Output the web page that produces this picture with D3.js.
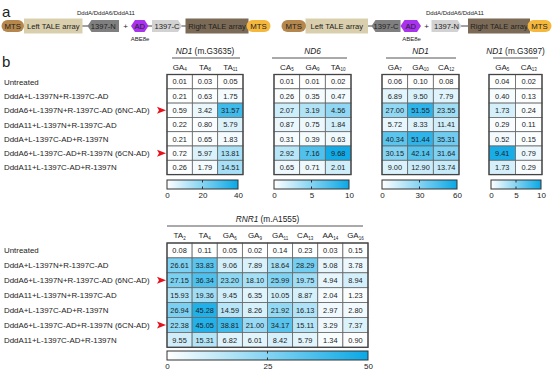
<!DOCTYPE html>
<html>
<head>
<meta charset="utf-8">
<script src="https://cdn.jsdelivr.net/npm/d3@7"></script>
<style>
  body { margin: 0; background: #fff; }
  svg text { font-family: "Liberation Sans", Arial, sans-serif; fill: #222; }
</style>
</head>
<body>
<svg id="fig"></svg>
<script>
var svgWidth = 554;
var svgHeight = 374;

// ---- data ----
var rowLabels = [
    "Untreated",
    "DddA+L-1397N+R-1397C-AD",
    "DddA6+L-1397N+R-1397C-AD (6NC-AD)",
    "DddA11+L-1397N+R-1397C-AD",
    "DddA+L-1397C-AD+R-1397N",
    "DddA6+L-1397C-AD+R-1397N (6CN-AD)",
    "DddA11+L-1397C-AD+R-1397N"
];
var arrowRows = [2, 5];

var nd1aGene = "ND1", nd1aSite = " (m.G3635)";
var nd1aCols = [["GA", "4"], ["TA", "8"], ["TA", "11"]];
var nd1aValues = [
    [0.01, 0.03, 0.05],
    [0.21, 0.63, 1.75],
    [0.59, 3.42, 31.57],
    [0.22, 0.80, 5.79],
    [0.21, 0.65, 1.83],
    [0.72, 5.97, 13.81],
    [0.26, 1.79, 14.51]
];
var nd1aTicks = [0, 20, 40];

var nd6Gene = "ND6", nd6Site = "";
var nd6Cols = [["CA", "5"], ["GA", "9"], ["TA", "10"]];
var nd6Values = [
    [0.01, 0.01, 0.02],
    [0.26, 0.35, 0.47],
    [2.07, 3.19, 4.56],
    [0.87, 0.75, 1.84],
    [0.31, 0.39, 0.63],
    [2.92, 7.16, 9.68],
    [0.65, 0.71, 2.01]
];
var nd6Ticks = [0, 5, 10];

var nd1bGene = "ND1", nd1bSite = "";
var nd1bCols = [["GA", "7"], ["GA", "10"], ["CA", "12"]];
var nd1bValues = [
    [0.06, 0.10, 0.08],
    [6.89, 9.50, 7.79],
    [27.00, 51.55, 23.55],
    [5.72, 8.33, 11.41],
    [40.34, 51.44, 35.31],
    [30.15, 42.14, 31.64],
    [9.00, 12.90, 13.74]
];
var nd1bTicks = [0, 30, 60];

var nd1cGene = "ND1", nd1cSite = " (m.G3697)";
var nd1cCols = [["GA", "5"], ["CA", "13"]];
var nd1cValues = [
    [0.04, 0.02],
    [0.40, 0.13],
    [1.73, 0.24],
    [0.29, 0.11],
    [0.52, 0.15],
    [9.41, 0.79],
    [1.73, 0.29]
];
var nd1cTicks = [0, 5, 10];

var rnr1Gene = "RNR1", rnr1Site = " (m.A1555)";
var rnr1Cols = [["TA", "2"], ["TA", "4"], ["GA", "6"], ["GA", "9"], ["GA", "11"], ["CA", "13"], ["AA", "14"], ["GA", "16"]];
var rnr1Values = [
    [0.08, 0.11, 0.05, 0.02, 0.14, 0.23, 0.03, 0.15],
    [26.61, 33.83, 9.06, 7.89, 18.64, 28.29, 5.08, 3.78],
    [27.15, 36.34, 23.20, 18.10, 25.99, 19.75, 4.94, 8.94],
    [15.93, 19.36, 9.45, 6.35, 10.05, 8.87, 2.04, 1.23],
    [26.94, 45.28, 14.59, 8.26, 21.92, 16.13, 2.97, 2.80],
    [22.38, 45.05, 38.81, 21.00, 34.17, 15.11, 3.29, 7.37],
    [9.55, 15.31, 6.82, 6.01, 8.42, 5.79, 1.34, 0.90]
];
var rnr1Ticks = [0, 25, 50];

var lowColor = "#ffffff";
var highColor = "#0aa8e6";

var svg = d3.select("#fig")
    .attr("width", svgWidth)
    .attr("height", svgHeight);

// ---- panel a ----
svg.append("text").attr("x", 2).attr("y", 17).attr("font-size", 15).text("a");
svg.append("text").attr("x", 2).attr("y", 67).attr("font-size", 15).text("b");

function hexPath(x0, x1, cy, h, leftPoint, rightPoint) {
    var k = 4, t = cy - h / 2, b = cy + h / 2;
    var pts = [];
    if (leftPoint) pts.push([x0, cy], [x0 + k, t]); else pts.push([x0, t]);
    if (rightPoint) pts.push([x1 - k, t], [x1, cy], [x1 - k, b]); else pts.push([x1, t], [x1, b]);
    if (leftPoint) pts.push([x0 + k, b]); else pts.push([x0, b]);
    return "M" + pts.map(function (p) { return p.join(","); }).join("L") + "Z";
}

function link(x0, x1, cy) {
    svg.append("line").attr("x1", x0).attr("x2", x1).attr("y1", cy).attr("y2", cy)
        .attr("stroke", "#444").attr("stroke-width", 1);
}

function pill(x0, x1, cy, fill) {
    svg.append("rect").attr("x", x0).attr("y", cy - 6).attr("width", x1 - x0).attr("height", 12)
        .attr("rx", 6).attr("fill", fill);
    svg.append("text").attr("x", (x0 + x1) / 2).attr("y", cy + 2.8).attr("text-anchor", "middle")
        .attr("font-size", 7.8).text("MTS");
}

function box(x0, x1, cy, fill, label) {
    svg.append("rect").attr("x", x0).attr("y", cy - 7.5).attr("width", x1 - x0).attr("height", 15)
        .attr("fill", fill);
    svg.append("text").attr("x", (x0 + x1) / 2).attr("y", cy + 2.8).attr("text-anchor", "middle")
        .attr("font-size", 7.6).text(label);
}

function hexa(x0, x1, cy, fill, label, lp, rp) {
    svg.append("path").attr("d", hexPath(x0, x1, cy, 12, lp, rp)).attr("fill", fill);
    svg.append("text").attr("x", (x0 + x1) / 2).attr("y", cy + 2.8).attr("text-anchor", "middle")
        .attr("font-size", 7.6).text(label);
}

function smallText(x, y, s) {
    svg.append("text").attr("x", x).attr("y", y).attr("text-anchor", "middle")
        .attr("font-size", 6).text(s);
}

var cy = 26;
var darkGray = "#7f7f7f", lightGray = "#d2d2d2", purple = "#a832ee";

// construct 1
link(82, 88, cy);
link(148, 186, cy);
box(24, 82.5, cy, "#d9cfad", "Left TALE array");
hexa(87.5, 119, cy, darkGray, "1397-N", true, false);
svg.append("text").attr("x", 125.5).attr("y", cy + 3).attr("text-anchor", "middle").attr("font-size", 8).text("+");
hexa(131, 148.5, cy, purple, "AD", true, true);
hexa(152, 182, cy, lightGray, "1397-C", false, true);
box(185.5, 248.5, cy, "#7b6a56", "Right TALE array");
pill(1.5, 24, cy, "#b5874c");
pill(246.5, 270.5, cy, "#f6b83c");
smallText(106, 15, "DddA/DddA6/DddA11");
smallText(140, 41, "ABE8e");

// construct 2
link(367, 372, cy);
link(461, 469, cy);
box(305.5, 368, cy, "#d9cfad", "Left TALE array");
hexa(371.5, 400.5, cy, darkGray, "1397-C", true, false);
hexa(400.5, 421, cy, purple, "AD", true, true);
svg.append("text").attr("x", 426.5).attr("y", cy + 3).attr("text-anchor", "middle").attr("font-size", 8).text("+");
hexa(431.5, 461.5, cy, lightGray, "1397-N", false, true);
box(468, 530, cy, "#7b6a56", "Right TALE array");
pill(281.5, 306, cy, "#b5874c");
pill(527.5, 551.5, cy, "#f6b83c");
smallText(455, 15, "DddA/DddA6/DddA11");
smallText(411.5, 41, "ABE8e");

// ---- panel b ----
function drawRowLabels(top, pitch) {
    var y = d3.scaleBand().domain(d3.range(rowLabels.length)).range([top, top + pitch * rowLabels.length]);
    var g = svg.append("g");
    g.selectAll("text").data(rowLabels).join("text")
        .attr("x", 4)
        .attr("y", function (d, i) { return y(i) + y.bandwidth() / 2 + 3; })
        .attr("font-size", 7.9)
        .text(function (d) { return d; });
    g.selectAll("path").data(arrowRows).join("path")
        .attr("d", function (r) {
            var c = y(r) + y.bandwidth() / 2;
            return "M157," + (c - 3.5) + "L166," + c + "L157," + (c + 3.5) + "L159," + c + "Z";
        })
        .attr("fill", "#e8101a");
}

function drawTable(opt) {
    var nRows = opt.values.length, nCols = opt.cols.length;
    var x = d3.scaleBand().domain(d3.range(nCols)).range([opt.x0, opt.x1]);
    var y = d3.scaleBand().domain(d3.range(nRows)).range([opt.top, opt.top + opt.pitch * nRows]);
    var vmax = opt.ticks[opt.ticks.length - 1];
    var color = d3.scaleLinear().domain([0, vmax]).range([lowColor, highColor]).clamp(true);
    var g = svg.append("g");

    // title + underline
    var title = g.append("text").attr("x", (opt.x0 + opt.x1) / 2).attr("y", opt.titleY)
        .attr("text-anchor", "middle").attr("font-size", 8.3);
    title.append("tspan").attr("font-style", "italic").text(opt.gene);
    if (opt.site) title.append("tspan").text(opt.site);
    g.append("line").attr("x1", opt.ul0).attr("x2", opt.ul1)
        .attr("y1", opt.titleY + 4).attr("y2", opt.titleY + 4)
        .attr("stroke", "#555").attr("stroke-width", 1);

    // column headers
    var hd = g.selectAll("text.hd").data(opt.cols).join("text").attr("class", "hd")
        .attr("x", function (d, i) { return x(i) + x.bandwidth() / 2; })
        .attr("y", opt.top - 5)
        .attr("text-anchor", "middle")
        .attr("font-size", 8);
    hd.append("tspan").text(function (d) { return d[0]; });
    hd.append("tspan").attr("font-size", 4.5).attr("dy", 1.5).text(function (d) { return d[1]; });

    // cells
    var cells = [];
    opt.values.forEach(function (row, r) {
        row.forEach(function (v, c) { cells.push({ r: r, c: c, v: v }); });
    });
    g.selectAll("rect.cell").data(cells).join("rect").attr("class", "cell")
        .attr("x", function (d) { return x(d.c); })
        .attr("y", function (d) { return y(d.r); })
        .attr("width", x.bandwidth())
        .attr("height", y.bandwidth())
        .attr("fill", function (d) { return color(d.v); })
        .attr("stroke", "#666")
        .attr("stroke-width", 0.8);
    g.selectAll("text.val").data(cells).join("text").attr("class", "val")
        .attr("x", function (d) { return x(d.c) + x.bandwidth() / 2; })
        .attr("y", function (d) { return y(d.r) + y.bandwidth() / 2 + 2.7; })
        .attr("text-anchor", "middle")
        .attr("font-size", 7.4)
        .text(function (d) { return d.v.toFixed(2); });
    g.append("rect")
        .attr("x", opt.x0).attr("y", opt.top)
        .attr("width", opt.x1 - opt.x0).attr("height", opt.pitch * nRows)
        .attr("fill", "none").attr("stroke", "#444").attr("stroke-width", 1.3);

    // colour bar
    var gid = "grad" + opt.id;
    var grad = svg.append("defs").append("linearGradient").attr("id", gid);
    grad.append("stop").attr("offset", "0%").attr("stop-color", lowColor);
    grad.append("stop").attr("offset", "100%").attr("stop-color", highColor);
    var bx = d3.scaleLinear().domain([0, vmax]).range([opt.cb0, opt.cb1]);
    var bt = opt.barY, bh = 9;
    g.append("rect").attr("x", opt.cb0).attr("y", bt).attr("width", opt.cb1 - opt.cb0).attr("height", bh)
        .attr("fill", "url(#" + gid + ")").attr("stroke", "#333").attr("stroke-width", 1);
    var mid = opt.ticks.slice(1, -1);
    g.selectAll("line.tk1").data(mid).join("line").attr("class", "tk1")
        .attr("x1", bx).attr("x2", bx).attr("y1", bt).attr("y2", bt + 2.5)
        .attr("stroke", "#333").attr("stroke-width", 1);
    g.selectAll("line.tk2").data(mid).join("line").attr("class", "tk2")
        .attr("x1", bx).attr("x2", bx).attr("y1", bt + bh - 2.5).attr("y2", bt + bh)
        .attr("stroke", "#333").attr("stroke-width", 1);
    var axis = d3.axisBottom(bx).tickValues(opt.ticks).tickSize(0).tickPadding(0);
    var ag = g.append("g").attr("transform", "translate(0," + (bt + bh + 3) + ")").call(axis);
    ag.select(".domain").remove();
    ag.selectAll("text").attr("font-size", 8).attr("font-family", "Liberation Sans, Arial, sans-serif")
        .attr("fill", "#222").attr("dy", "0.75em");
}

drawRowLabels(74.5, 14.3);
drawRowLabels(243, 14.9);

drawTable({ id: 1, gene: nd1aGene, site: nd1aSite, cols: nd1aCols, values: nd1aValues, ticks: nd1aTicks,
    x0: 167, x1: 243, top: 74.5, pitch: 14.3, titleY: 54, ul0: 172, ul1: 240, barY: 180, cb0: 167, cb1: 238 });
drawTable({ id: 2, gene: nd6Gene, site: nd6Site, cols: nd6Cols, values: nd6Values, ticks: nd6Ticks,
    x0: 274, x1: 351, top: 74.5, pitch: 14.3, titleY: 54, ul0: 272, ul1: 347, barY: 180, cb0: 274, cb1: 349 });
drawTable({ id: 3, gene: nd1bGene, site: nd1bSite, cols: nd1bCols, values: nd1bValues, ticks: nd1bTicks,
    x0: 382, x1: 459, top: 74.5, pitch: 14.3, titleY: 54, ul0: 386, ul1: 456, barY: 180, cb0: 382, cb1: 457 });
drawTable({ id: 4, gene: nd1cGene, site: nd1cSite, cols: nd1cCols, values: nd1cValues, ticks: nd1cTicks,
    x0: 489, x1: 542, top: 74.5, pitch: 14.3, titleY: 54, ul0: 493, ul1: 538, barY: 180, cb0: 491, cb1: 541 });
drawTable({ id: 5, gene: rnr1Gene, site: rnr1Site, cols: rnr1Cols, values: rnr1Values, ticks: rnr1Ticks,
    x0: 167, x1: 368, top: 243, pitch: 14.9, titleY: 222, ul0: 167, ul1: 363, barY: 351, cb0: 167, cb1: 368 });
</script>
</body>
</html>
